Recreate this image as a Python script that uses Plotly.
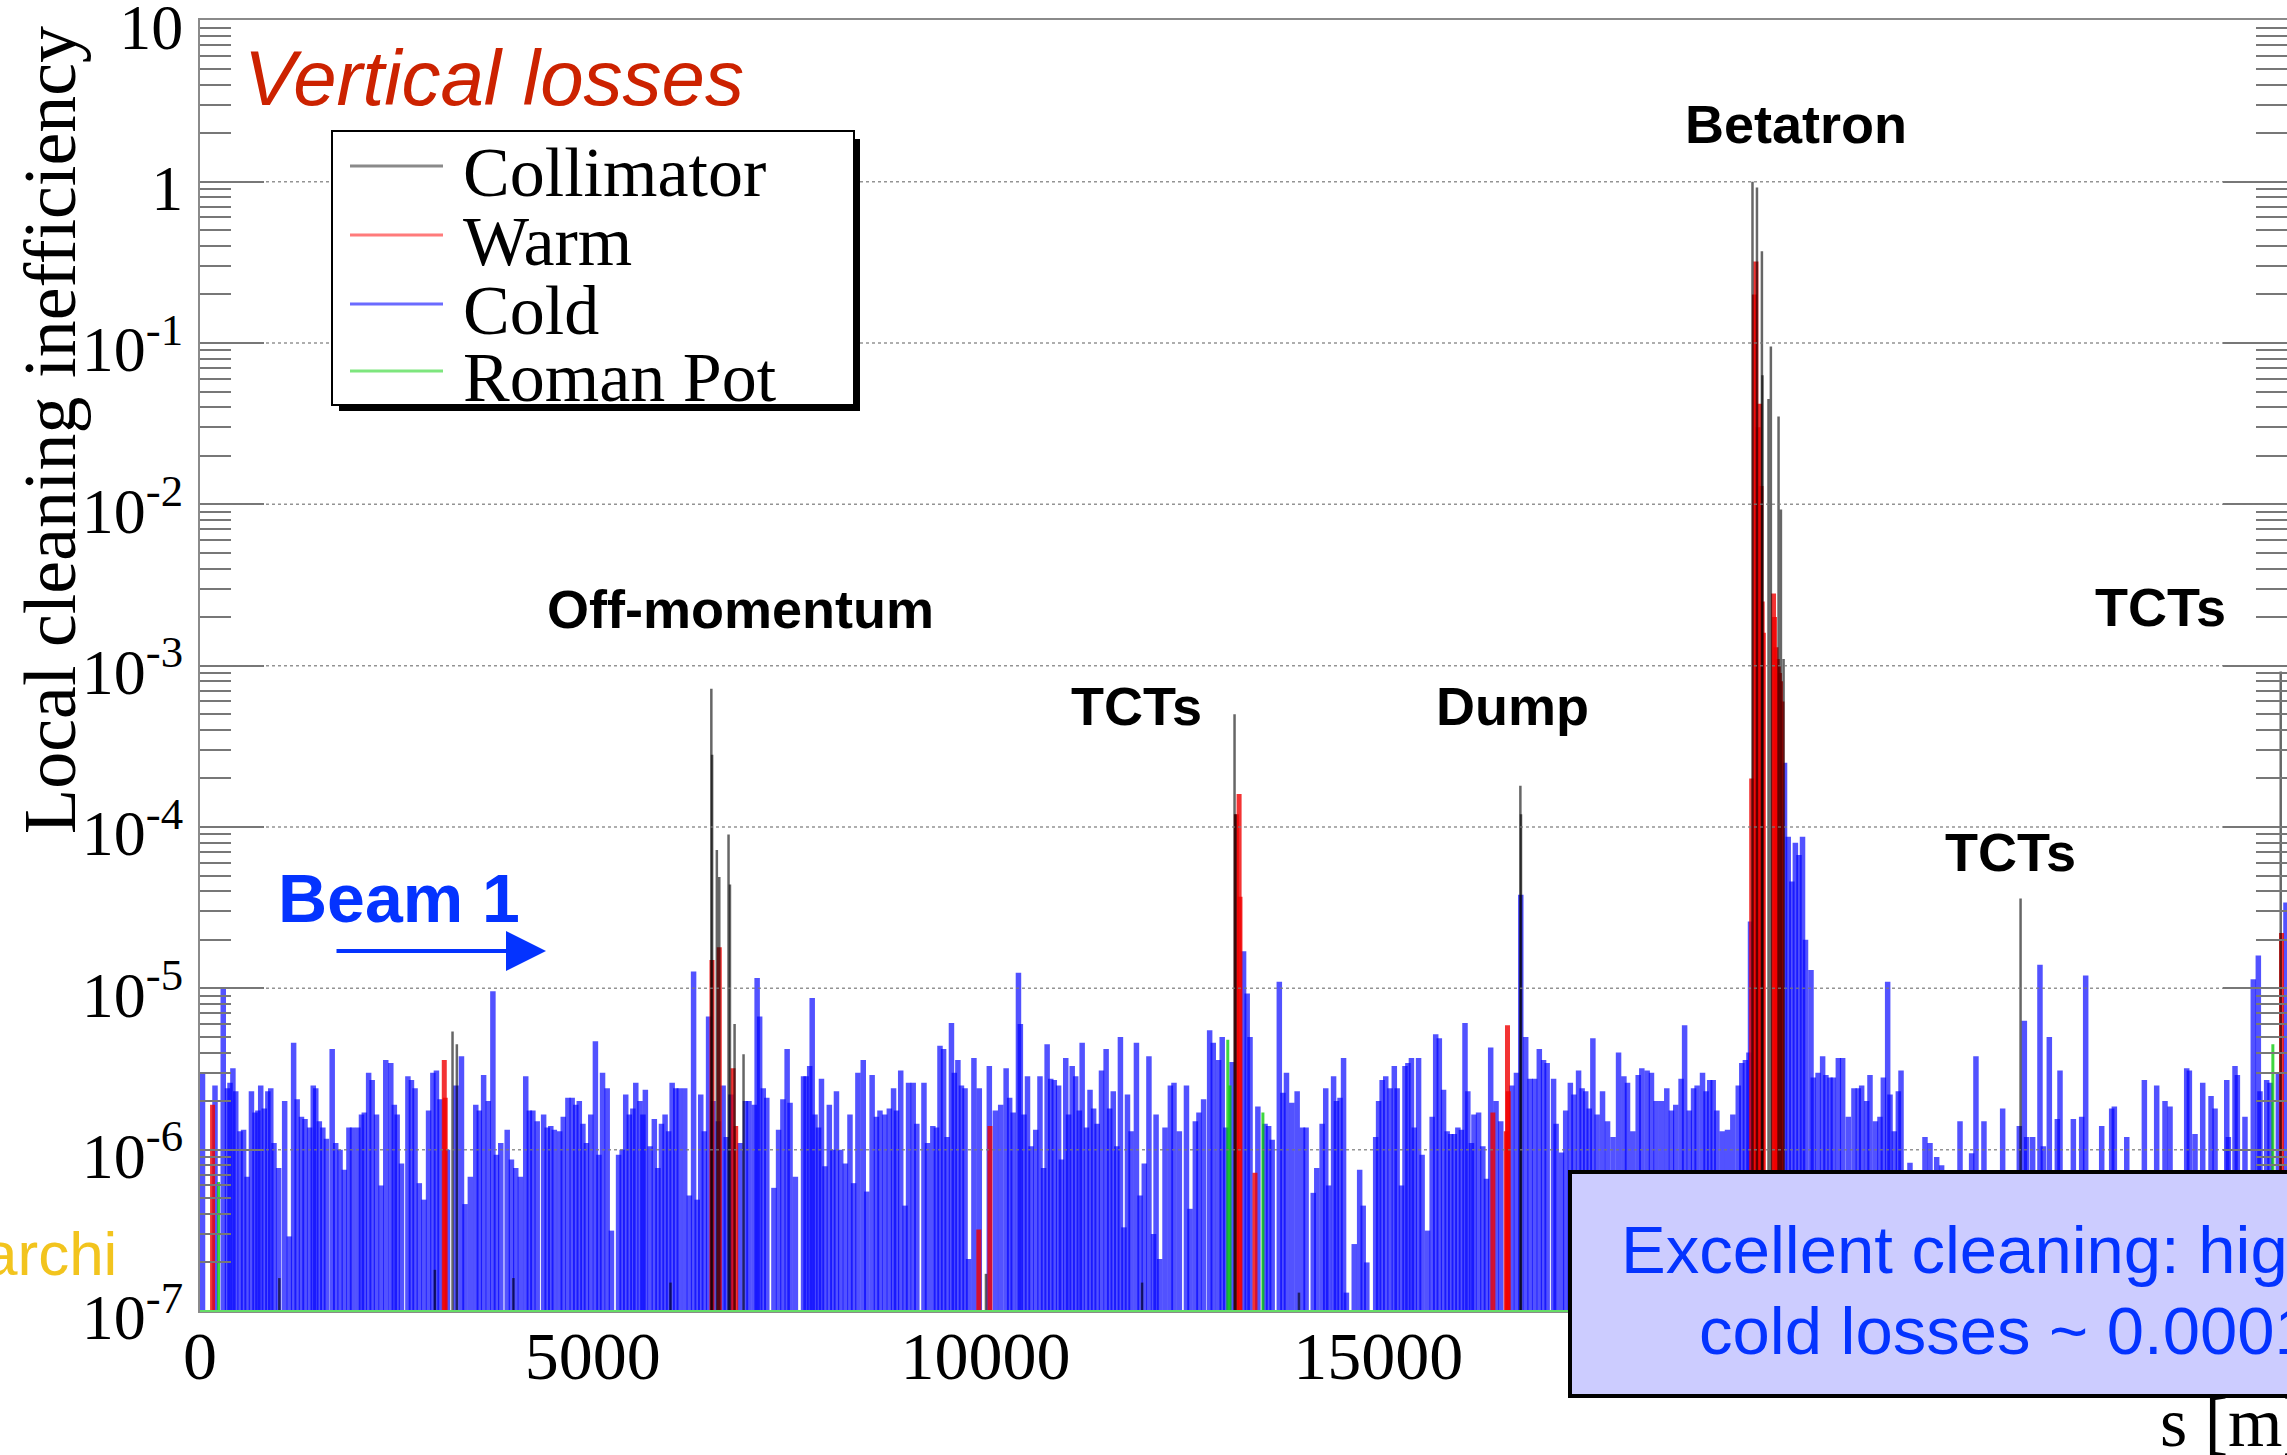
import plotly.graph_objects as go

# ---------------------------------------------------------------------------
# Loss map data: longitudinal position s [m] and local cleaning inefficiency
# ---------------------------------------------------------------------------
cold_s = [
    32, 191, 296, 350, 382, 419, 455, 510, 555, 600, 655, 700, 737, 773, 819, 864, 901, 942,
    1001, 1078, 1137, 1192, 1237, 1292, 1337, 1396, 1442, 1474, 1519, 1564, 1610, 1683, 1728,
    1783, 1837, 1896, 1942, 2010, 2056, 2092, 2147, 2192, 2247, 2306, 2365, 2429, 2474, 2510,
    2565, 2647, 2692, 2738, 2792, 2851, 2910, 2965, 3010, 3056, 3150, 3260, 3329, 3374, 3442,
    3511, 3556, 3611, 3670, 3729, 3774, 3829, 3911, 3965, 4020, 4079, 4147, 4193, 4238, 4293,
    4375, 4420, 4466, 4511, 4579, 4625, 4684, 4738, 4784, 4829, 4875, 4920, 4975, 5034, 5079,
    5125, 5184, 5238, 5329, 5375, 5420, 5466, 5511, 5548, 5602, 5639, 5670, 5730, 5784, 5830,
    5875, 5921, 5966, 6011, 6057, 6102, 6171, 6230, 6284, 6330, 6375, 6421, 6475, 6530, 6600,
    6660, 6700, 6760, 6875, 6944,
    6989, 7057, 7093, 7125, 7171, 7216, 7307, 7366, 7421, 7475, 7512, 7580, 7684, 7716, 7762,
    7794, 7830, 7875, 7912, 7957, 8012, 8057, 8103, 8157, 8216, 8275, 8321, 8376, 8444, 8489,
    8557, 8612, 8657, 8717, 8776, 8830, 8867, 8921, 8976, 9021, 9080, 9126, 9217, 9262, 9330,
    9376, 9421, 9467, 9512, 9567, 9603, 9649, 9694, 9740, 9785, 9853, 9921, 10049, 10126,
    10194, 10263, 10308, 10353, 10420, 10444, 10490, 10535, 10581, 10640, 10694, 10740, 10785,
    10831, 10876, 10931, 10967, 11022, 11058, 11104, 11149, 11195, 11231, 11286, 11331, 11377,
    11422, 11477, 11536, 11581, 11627, 11672, 11718, 11763, 11808, 11854, 11922, 11968, 12022,
    12081, 12140, 12172, 12218, 12286, 12354, 12400, 12468, 12559, 12604, 12672, 12718, 12777,
    12854, 12900, 12968, 13014, 13059, 13140, 13286, 13332, 13368, 13468, 13559, 13605, 13650,
    13741, 13787, 13832, 13900, 13968,
    14036, 14082, 14173, 14218, 14286, 14332, 14368, 14432, 14468, 14514, 14559, 14595, 14695,
    14764, 14809, 14855, 14968, 15005, 15050, 15096, 15150, 15205, 15241, 15296, 15341, 15378,
    15423, 15459, 15514, 15559, 15628, 15687, 15732, 15778, 15832, 15878, 15923, 15969, 16014,
    16060, 16105, 16141, 16187, 16219, 16278, 16332, 16378, 16432, 16500, 16560, 16700, 16760,
    16815, 16878, 16933, 16992, 17051, 17105, 17151, 17233, 17265, 17333, 17387, 17446, 17492,
    17551, 17596, 17642, 17687, 17733, 17787, 17856, 17920, 17990, 18060, 18128, 18174, 18242,
    18310, 18356, 18424, 18479, 18538, 18606, 18674, 18733, 18788, 18856, 18901, 18960, 19015,
    19060, 19129, 19174, 19220, 19265, 19311, 19379, 19447, 19515, 19584, 19629, 19675, 19720,
    19740,
    20173, 20220, 20266, 20311, 20357, 20402, 20440, 20510, 20539, 20600, 20658, 20700, 20752,
    20794, 20858, 20913, 20985, 21057, 21112, 21155, 21218, 21261, 21330, 21388, 21431, 21486,
    21516, 21570, 21622, 21656, 21770, 21961, 22025, 22110, 22173, 22407, 22555, 22610, 22712,
    22950, 23162, 23226, 23255, 23332, 23425, 23468, 23544, 23646, 23680, 23850, 23956, 24007,
    24211, 24338, 24372, 24530, 24754, 24911, 25017, 25081, 25293, 25327, 25399, 25497, 25603,
    25654, 25803, 25823, 25908, 25938, 26035, 26141, 26205, 26226, 26311, 26354, 26460, 26557,
]
cold_v = [
    3.0e-6, 2.5e-6, 1.0e-5, 2.4e-6, 2.6e-6, 3.2e-6, 2.3e-6, 1.3e-6, 1.33e-6, 6.8e-7, 2.3e-6,
    1.7e-6, 1.75e-6, 2.5e-6, 1.8e-6, 2.3e-6, 2.4e-6, 1.1e-6,
    7.7e-7, 2.0e-6, 2.9e-7, 4.6e-6, 2.05e-6, 1.6e-6, 1.55e-6, 1.37e-6, 2.5e-6, 2.4e-6, 1.5e-6,
    1.37e-6, 1.17e-6, 4.2e-6, 1.1e-6,
    1.0e-6, 7.5e-7, 1.37e-6, 1.37e-6, 1.37e-6, 1.65e-6, 1.7e-6, 3.0e-6, 2.7e-6, 1.65e-6, 6.0e-7,
    3.6e-6, 3.45e-6, 1.9e-6, 1.65e-6,
    8.2e-7, 2.85e-6, 2.7e-6, 2.4e-6, 6.2e-7, 4.9e-7, 1.75e-6, 3.0e-6, 3.1e-6, 2.05e-6, 1.0e-6,
    2.5e-6, 3.8e-6, 4.6e-7, 6.8e-7,
    1.9e-6, 1.75e-6, 2.9e-6, 2.0e-6, 9.6e-6, 9.3e-7, 1.1e-6, 1.33e-6, 8.7e-7, 7.7e-7, 6.8e-7,
    2.85e-6, 1.75e-6, 1.75e-6, 1.5e-6,
    1.65e-6, 1.37e-6, 1.4e-6, 1.33e-6, 1.3e-6, 1.6e-6, 2.1e-6, 2.1e-6, 1.9e-6, 2.0e-6, 1.45e-6,
    1.1e-6, 1.65e-6, 4.7e-6, 9.3e-7,
    3.0e-6, 2.4e-6, 3.15e-7, 9.3e-7, 1.0e-6, 2.2e-6, 1.65e-6, 1.8e-6, 2.6e-6, 2.0e-6, 1.65e-6,
    2.35e-6, 1.05e-6, 1.55e-6, 7.7e-7,
    1.45e-6, 1.65e-6, 1.3e-6, 2.6e-6, 2.4e-6, 2.4e-6, 2.4e-6, 5.2e-7, 1.27e-5, 4.9e-7, 2.2e-6,
    1.3e-6, 6.7e-6, 2.0e-6, 1.5e-6,
    2.5e-6, 1.2e-6, 2.2e-6, 1.1e-6, 2.0e-6,
    2.0e-6, 1.9e-6, 1.16e-5, 6.7e-6, 2.4e-6, 2.1e-6, 5.8e-7, 1.33e-6, 2.05e-6, 4.2e-6, 1.95e-6,
    6.8e-7, 2.85e-6, 2.85e-6, 3.3e-6,
    8.7e-6, 1.65e-6, 1.37e-6, 2.75e-6, 7.9e-7, 1.9e-6, 1.0e-6, 2.3e-6, 1.0e-6, 8.2e-7, 1.65e-6,
    6.2e-7, 3.0e-6, 3.6e-6, 5.5e-7,
    2.9e-6, 1.6e-6, 1.75e-6, 1.65e-6, 1.8e-6, 2.4e-6, 1.75e-6, 3.1e-6, 4.5e-7, 2.6e-6, 2.6e-6,
    1.45e-6, 2.6e-6, 1.1e-6, 1.4e-6,
    1.37e-6, 4.4e-6, 4.2e-6, 1.2e-6, 6.1e-6, 3.0e-6, 3.6e-6, 2.5e-6, 2.4e-6, 2.1e-7, 3.7e-6,
    2.4e-6, 3.3e-6, 1.75e-6,
    1.9e-6, 3.2e-6, 2.1e-6, 1.7e-6, 1.25e-5, 6.0e-6, 1.65e-6, 2.85e-6, 1.05e-6, 1.33e-6, 2.85e-6,
    7.7e-7, 4.5e-6,
    2.75e-6, 2.7e-6, 2.5e-6, 8.7e-7, 3.7e-6, 1.65e-6, 3.3e-6, 2.85e-6, 1.75e-6, 4.6e-6, 1.37e-6,
    2.35e-6, 1.8e-6,
    1.45e-6, 3.1e-6, 4.2e-6, 1.8e-6, 2.3e-6, 1.05e-6, 5.0e-6, 3.3e-7, 2.2e-6, 1.3e-6, 4.6e-6,
    5.2e-7, 8.2e-7,
    3.8e-6, 3.0e-7, 1.65e-6, 2.1e-7, 1.37e-6, 2.5e-6, 2.6e-6, 1.3e-6, 2.5e-6, 4.3e-7, 1.5e-6,
    1.7e-6, 2.05e-6,
    5.5e-6, 4.6e-6, 3.6e-6, 5.0e-6, 1.37e-6, 3.5e-6, 1.7e-5, 9.3e-6, 5.0e-6, 1.85e-6, 1.45e-6,
    1.4e-6, 1.15e-6,
    1.1e-5, 2.25e-6, 3.0e-6, 1.95e-6, 2.3e-6,
    1.37e-6, 1.37e-6, 5.4e-7, 7.7e-7, 1.45e-6, 2.4e-6, 6.0e-7, 2.85e-6, 2.0e-6, 2.1e-6, 3.7e-6,
    1.3e-7, 2.6e-7,
    7.5e-7, 4.5e-7, 2.0e-7, 1.2e-6, 2.0e-6, 2.7e-6, 2.85e-6, 2.4e-6, 3.3e-6, 2.4e-6, 6.0e-7,
    3.3e-6, 3.45e-6,
    3.7e-6, 1.37e-6, 3.7e-6, 9.3e-7, 3.15e-7, 1.6e-6, 5.2e-6, 4.9e-6, 2.35e-6, 1.3e-6, 1.25e-6,
    1.25e-6, 1.37e-6,
    1.33e-6, 6.1e-6, 2.3e-6, 1.1e-6, 1.65e-6, 1.7e-6, 1.05e-6, 6.6e-7, 4.3e-6, 2.0e-6, 1.5e-6,
    2.5e-6, 3.0e-6,
    3.8e-5, 5.0e-6, 2.75e-6, 2.75e-6, 4.2e-6, 3.6e-6, 3.45e-6, 2.75e-6, 1.45e-6, 9.6e-7, 1.75e-6,
    2.6e-6, 2.2e-6,
    3.1e-6, 2.4e-6, 2.3e-6, 1.8e-6, 4.9e-6, 1.65e-6, 2.3e-6, 1.5e-6, 1.2e-6, 4.0e-6, 2.85e-6,
    2.6e-6, 1.3e-6,
    2.9e-6, 3.2e-6, 3.1e-6, 3.0e-6, 2.0e-6, 2.0e-6, 2.4e-6, 1.75e-6, 1.9e-6, 2.75e-6, 5.9e-6,
    1.75e-6, 2.4e-6,
    2.5e-6, 3.0e-6, 2.3e-6, 2.7e-6, 2.7e-6, 1.75e-6, 1.3e-6, 1.33e-6, 1.65e-6, 2.5e-6, 3.45e-6,
    3.6e-6, 4.0e-6,
    2.6e-5,
    2.5e-4, 8.7e-5, 4.6e-5, 8.0e-5, 6.7e-5, 8.7e-5, 2.0e-5, 1.3e-5, 2.8e-6, 3.0e-6, 3.8e-6,
    2.9e-6, 2.8e-6,
    2.8e-6, 3.7e-6, 3.7e-6, 1.6e-6, 2.4e-6, 2.4e-6, 2.5e-6, 2.0e-6, 2.9e-6, 1.5e-6, 1.6e-6,
    2.8e-6, 1.1e-5,
    2.2e-6, 1.3e-6, 2.3e-6, 3.1e-6, 8.3e-7, 1.2e-6, 1.1e-6, 9.0e-7, 8.0e-7, 1.5e-6, 9.5e-7,
    3.8e-6, 1.5e-6,
    1.8e-6, 1.4e-6, 6.3e-6, 1.2e-6, 1.2e-6, 1.4e-5, 1.05e-6, 5.0e-6, 1.55e-6, 3.1e-6, 1.55e-6,
    1.6e-6, 1.2e-5,
    1.4e-6, 1.8e-6, 1.85e-6, 1.2e-6, 2.7e-6, 2.5e-6, 2.0e-6, 1.85e-6, 3.2e-6, 3.1e-6, 1.25e-6,
    2.6e-6, 2.15e-6,
    1.8e-6, 2.7e-6, 1.2e-6, 3.3e-6, 2.9e-6, 1.6e-6, 1.14e-5, 1.6e-5, 2.3e-6, 2.7e-6, 2.6e-6,
    3.0e-6, 3.4e-5,
]

coll_s = [1010, 2990, 3215, 3270, 3990, 5990, 6510, 6520, 6580, 6611, 6729, 6747, 6806, 6920,
          10006, 11994, 13171, 13185, 13991, 16810, 16818, 19765, 19822, 19885, 19892, 19969,
          19999, 20097, 20127, 20161, 23178, 26490]
coll_v = [1.6e-7, 1.8e-7, 5.4e-6, 4.5e-6, 1.6e-7, 1.5e-7, 7.2e-4, 2.8e-4, 7.2e-5, 4.9e-5,
          9.0e-5, 4.4e-5, 6.0e-6, 3.9e-6, 1.7e-7, 1.5e-7, 5.0e-4, 1.2e-4, 1.3e-7, 1.8e-4,
          1.2e-4, 1.0, 0.92, 0.37, 0.063, 0.045, 0.095, 0.035, 9.3e-3, 1.1e-3, 3.6e-5, 9.2e-4]

warm_s = [160, 3110, 3122, 6518, 6611, 6786, 6820, 9915, 10057, 13194, 13229, 13240, 13431,
          16460, 16630, 16646, 16656, 19755, 19790, 19809, 19835, 19853, 19873, 19888, 19903,
          20033, 20045, 20064, 20080, 20094, 20108, 20122, 20140, 26500]
warm_v = [1.9e-6, 3.6e-6, 2.1e-6, 1.5e-5, 1.8e-5, 3.2e-6, 1.4e-6, 3.2e-7, 1.4e-6, 1.2e-4,
          1.6e-4, 3.7e-5, 7.2e-7, 1.7e-6, 1.3e-6, 5.9e-6, 2.3e-6, 2.0e-4, 0.2, 0.32, 0.03,
          0.042, 0.013, 2.5e-3, 1.6e-3,
          2.8e-3, 2.0e-3, 1.3e-3, 1.1e-3, 1.0e-3, 9.0e-4, 8.0e-4, 6.0e-4, 2.2e-5]

rp_s = [236, 13085, 13113, 13532, 26390]
rp_v = [6.3e-7, 4.8e-6, 2.5e-6, 1.7e-6, 4.5e-6]

x_ticks = [0, 5000, 10000, 15000, 20000, 25000]
y_exponents = [-7, -6, -5, -4, -3, -2, -1, 0, 1]
y_floor = 1e-7

# ---------------------------------------------------------------------------
# Page geometry (pixels) and helpers to place decorations in paper units
# ---------------------------------------------------------------------------
W, H = 2287, 1455
L, R, T, B = 200, 2287, 20, 1311
S_MAX = 26570

SERIF = "Liberation Serif"
SANS = "Liberation Sans"
BLUE_TXT = "#0433ff"


def px(x):
    return (x - L) / (R - L)


def py(y):
    return (B - y) / (B - T)


def stems(s_vals, v_vals):
    """Vertical segments from the axis floor up to each loss value."""
    xs, ys = [], []
    for s, v in zip(s_vals, v_vals):
        xs += [s, s, None]
        ys += [y_floor, v, None]
    return xs, ys


fig = go.Figure()

# cold losses: interleaved traces so neighbouring stems blend where they overlap
for k in range(3):
    xs, ys = stems(cold_s[k::3], cold_v[k::3])
    fig.add_trace(go.Scatter(x=xs, y=ys, mode="lines", name="Cold",
                             line=dict(color="rgba(0,0,255,0.68)", width=5.5),
                             showlegend=False, hoverinfo="skip"))

xs, ys = stems(rp_s, rp_v)
fig.add_trace(go.Scatter(x=xs, y=ys, mode="lines", name="Roman Pot",
                         line=dict(color="rgba(0,200,0,0.75)", width=3),
                         showlegend=False, hoverinfo="skip"))

xs, ys = stems(warm_s, warm_v)
fig.add_trace(go.Scatter(x=xs, y=ys, mode="lines", name="Warm",
                         line=dict(color="rgba(240,0,0,0.8)", width=5),
                         showlegend=False, hoverinfo="skip"))

xs, ys = stems(coll_s, coll_v)
fig.add_trace(go.Scatter(x=xs, y=ys, mode="lines", name="Collimator",
                         line=dict(color="rgba(0,0,0,0.6)", width=2.5),
                         showlegend=False, hoverinfo="skip"))

# ---------------------------------------------------------------------------
# Shapes: grid, baseline, legend frame, info box
# ---------------------------------------------------------------------------
shapes = []
for e in y_exponents[1:-1]:
    shapes.append(dict(type="line", xref="paper", yref="y", x0=0, x1=1,
                       y0=10 ** e, y1=10 ** e, layer="above",
                       line=dict(color="rgba(120,120,120,0.8)", width=1.5, dash="dot")))

shapes.append(dict(type="line", xref="paper", yref="paper", x0=0, x1=1, y0=0, y1=0,
                   layer="above", line=dict(color="#66dd66", width=2)))

# legend box with drop shadow
shapes.append(dict(type="rect", xref="paper", yref="paper",
                   x0=px(339), x1=px(860), y0=py(411), y1=py(139), layer="above",
                   fillcolor="black", line=dict(width=0)))
shapes.append(dict(type="rect", xref="paper", yref="paper",
                   x0=px(332), x1=px(854), y0=py(405), y1=py(131), layer="above",
                   fillcolor="white", line=dict(color="black", width=2)))

legend_rows = [("Collimator", "#8a8a8a", 166), ("Warm", "#ff7b7b", 235),
               ("Cold", "#6b6bff", 304), ("Roman Pot", "#7ee67e", 371)]
for label, color, yy in legend_rows:
    shapes.append(dict(type="line", xref="paper", yref="paper",
                       x0=px(350), x1=px(443), y0=py(yy), y1=py(yy), layer="above",
                       line=dict(color=color, width=3)))

# info box, running off the right edge
shapes.append(dict(type="rect", xref="paper", yref="paper",
                   x0=px(1570), x1=px(2420), y0=py(1396), y1=py(1172), layer="above",
                   fillcolor="#ccccff", line=dict(color="black", width=4)))

# ---------------------------------------------------------------------------
# Text
# ---------------------------------------------------------------------------
ann = []


def text(t, x, y, size, color="black", family=SANS, xanchor="center", bold=False, **kw):
    ann.append(dict(text=t, x=px(x), y=py(y), xref="paper", yref="paper",
                    xanchor=xanchor, yanchor="middle", showarrow=False,
                    font=dict(family=family, size=size, color=color,
                              weight="bold" if bold else "normal"), **kw))


text("<i>Vertical losses</i>", 242, 78, 78, color="#cc2200", xanchor="left")
text("Off-momentum", 740, 609, 54, bold=True)
text("TCTs", 1136, 706, 54, bold=True)
text("Dump", 1512, 706, 54, bold=True)
text("Betatron", 1796, 124, 54, bold=True)
text("TCTs", 2160, 607, 54, bold=True)
text("TCTs", 2010, 852, 54, bold=True)
text("Beam 1", 399, 898, 68, color=BLUE_TXT, bold=True)
text("archi", 119, 1253, 62, color="#f2c41e", xanchor="right")

for label, color, yy in legend_rows:
    text(label, 461, yy + 6, 70, family=SERIF, xanchor="left")

text("Excellent cleaning: highest", 1619, 1249, 67, color=BLUE_TXT, xanchor="left")
text("cold losses ~ 0.0001", 1697, 1330, 67, color=BLUE_TXT, xanchor="left")

text("s [m]", 2158, 1422, 70, family=SERIF, xanchor="left")
text("Local cleaning inefficiency", 50, 430, 74, family=SERIF, textangle=-90)

# direction arrow
ann.append(dict(text="", xref="paper", yref="paper", axref="pixel", ayref="pixel",
                x=px(546), y=py(951), ax=-(546 - 335), ay=0, showarrow=True,
                arrowhead=2, arrowsize=2.0, arrowwidth=4, arrowcolor=BLUE_TXT))

# ---------------------------------------------------------------------------
# Axes
# ---------------------------------------------------------------------------
minor_vals = [k * 10.0 ** e for e in y_exponents[:-1] for k in range(2, 10)]
y_text = ["10<sup>-%d</sup>" % (-e) if e < 0 else ("1" if e == 0 else "10")
          for e in y_exponents]

fig.update_layout(
    width=W, height=H,
    margin=dict(l=L, r=W - R, t=T, b=H - B, pad=0),
    paper_bgcolor="white", plot_bgcolor="white",
    showlegend=False,
    shapes=shapes, annotations=ann,
    xaxis=dict(range=[0, S_MAX], tickmode="array", tickvals=x_ticks,
               ticktext=[str(v) for v in x_ticks], ticks="", showgrid=False,
               zeroline=False, showline=True, linecolor="#8a8a8a", linewidth=2,
               mirror=True, automargin=False, ticklabelstandoff=-16,
               tickfont=dict(family=SERIF, size=68, color="black")),
    yaxis=dict(type="log", range=[-7, 1.002], tickmode="array",
               tickvals=[10.0 ** e for e in y_exponents], ticktext=y_text,
               ticks="inside", ticklen=64, tickwidth=2, tickcolor="#777777",
               showgrid=False, zeroline=False, showline=True, linecolor="#8a8a8a",
               linewidth=2, mirror="ticks", automargin=False, ticklabelstandoff=2,
               ticklabelshift=6, ticklabeloverflow="allow",
               tickfont=dict(family=SERIF, size=64, color="black"),
               minor=dict(tickmode="array", tickvals=minor_vals, ticks="inside",
                          ticklen=31, tickwidth=2, tickcolor="#777777", showgrid=False)),
)

fig.write_html("out.html")
